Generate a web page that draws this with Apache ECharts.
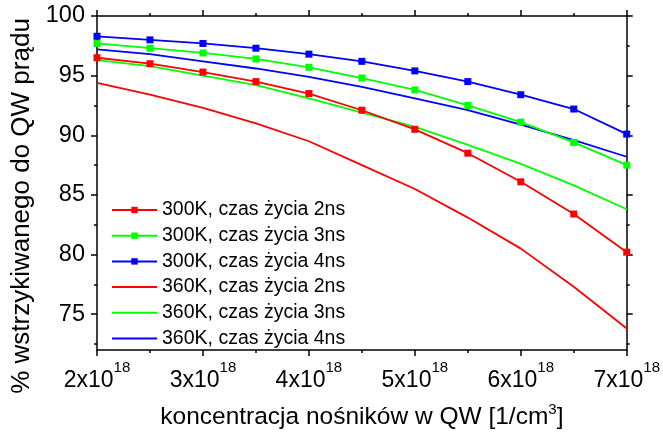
<!DOCTYPE html>
<html>
<head>
<meta charset="utf-8">
<script src="https://cdn.jsdelivr.net/npm/echarts@6/dist/echarts.min.js"></script>
<style>
  html, body { margin: 0; padding: 0; background: #fff; }
  #chart { width: 663px; height: 435px; }
</style>
</head>
<body>
<div id="chart"></div>
<script>
// carrier concentration in units of 1e18 cm^-3
const concentration = [2, 2.5, 3, 3.5, 4, 4.5, 5, 5.5, 6, 6.5, 7];

// share of injected current reaching the QW [%]
const t300_2ns = [96.5, 96.0, 95.3, 94.5, 93.5, 92.1, 90.5, 88.5, 86.1, 83.4, 80.2];
const t300_3ns = [97.7, 97.3, 96.9, 96.4, 95.7, 94.8, 93.8, 92.5, 91.1, 89.4, 87.5];
const t300_4ns = [98.3, 98.0, 97.7, 97.3, 96.8, 96.2, 95.4, 94.5, 93.4, 92.2, 90.1];
const t360_2ns = [94.4, 93.4, 92.3, 91.0, 89.5, 87.5, 85.5, 83.1, 80.5, 77.3, 73.8];
const t360_3ns = [96.3, 95.8, 95.0, 94.2, 93.1, 91.9, 90.7, 89.2, 87.6, 85.8, 83.8];
const t360_4ns = [97.2, 96.8, 96.2, 95.6, 94.9, 94.05, 93.1, 92.1, 90.9, 89.6, 88.2];

const seriesNames = [
  '300K, czas życia 2ns', '300K, czas życia 3ns', '300K, czas życia 4ns',
  '360K, czas życia 2ns', '360K, czas życia 3ns', '360K, czas życia 4ns'
];

const yMajorTicks = [75, 80, 85, 90, 95, 100];
const yMinorTicks = [72.5, 77.5, 82.5, 87.5, 92.5, 97.5];

const FONT = '"Liberation Sans", Arial, sans-serif';
const RED = '#ff0000', GREEN = '#00ff00', BLUE = '#0000ff';

const pairs = ys => concentration.map((x, i) => [x, ys[i]]);

function makeSeries(name, ys, color, withMarkers) {
  return {
    name,
    type: 'line',
    data: pairs(ys),
    xAxisIndex: 0,
    yAxisIndex: 0,
    symbol: withMarkers ? 'rect' : 'none',
    symbolSize: 7,
    showSymbol: withMarkers,
    lineStyle: { color, width: 1.8 },
    itemStyle: { color },
    emphasis: { disabled: true },
    animation: false,
    z: withMarkers ? 3 : 2
  };
}

const axisLine = { show: true, lineStyle: { color: '#000', width: 1.5 } };

function yAxisBase(position, ticks, tickLen, withLabels) {
  return {
    type: 'value',
    position,
    min: 72,
    max: 100,
    axisLine: withLabels !== null ? axisLine : { show: false },
    axisTick: {
      show: true, inside: false, length: tickLen,
      customValues: ticks,
      lineStyle: { color: '#000', width: 1.5 }
    },
    axisLabel: withLabels ? {
      show: true, customValues: ticks, margin: 12,
      color: '#000', fontFamily: FONT, fontSize: 23.5
    } : { show: false },
    splitLine: { show: false }
  };
}

const xTickLabel = v => '{a|' + v + 'x10}{b|18}';

const xRich = {
  a: { fontFamily: FONT, fontSize: 23, color: '#000', lineHeight: 32, verticalAlign: 'bottom' },
  b: { fontFamily: FONT, fontSize: 15, color: '#000', lineHeight: 15, verticalAlign: 'top' }
};

function xAxisBase(position, withLabels) {
  return {
    type: 'value',
    position,
    min: 2,
    max: 7,
    interval: 1,
    axisLine,
    axisTick: { show: true, inside: false, length: 6, lineStyle: { color: '#000', width: 1.5 } },
    minorTick: { show: true, splitNumber: 2, length: 3, lineStyle: { color: '#000', width: 1.5 } },
    axisLabel: withLabels ? {
      show: true, margin: 10, formatter: xTickLabel, rich: xRich
    } : { show: false },
    splitLine: { show: false },
    minorSplitLine: { show: false }
  };
}

const xBottom = xAxisBase('bottom', true);
xBottom.name = '{n|koncentracja nośników w QW [1/cm}{s|3}{n|]}';
xBottom.nameLocation = 'middle';
xBottom.nameGap = 52;
xBottom.nameTextStyle = {
  rich: {
    n: { fontFamily: FONT, fontSize: 24.5, color: '#000', lineHeight: 28, verticalAlign: 'bottom' },
    s: { fontFamily: FONT, fontSize: 15, color: '#000', lineHeight: 14, verticalAlign: 'top' }
  }
};

const yLeft = yAxisBase('left', yMajorTicks, 6, true);
yLeft.name = '% wstrzykiwanego do QW prądu';
yLeft.nameLocation = 'middle';
yLeft.nameGap = 56;
yLeft.nameTextStyle = {
  fontFamily: FONT, fontSize: 26, color: '#000', padding: [0, 46, 0, 0]
};

// the 360K entries are plain lines, so their legend symbol is hidden
const legendData = seriesNames.map((name, i) =>
  i < 3 ? { name } : { name, itemStyle: { opacity: 0 } }
);

const option = {
  backgroundColor: '#fff',
  animation: false,
  grid: { left: 97, right: 35, top: 16, bottom: 81, containLabel: false },
  xAxis: [xBottom, xAxisBase('top', false)],
  yAxis: [
    yLeft,
    yAxisBase('left', yMinorTicks, 3, null),
    yAxisBase('right', yMajorTicks, 6, false),
    yAxisBase('right', yMinorTicks, 3, null)
  ],
  legend: {
    show: true,
    orient: 'vertical',
    left: 111,
    top: 200,
    padding: 0,
    itemGap: 5.7,
    itemWidth: 45,
    itemHeight: 8,
    textStyle: { fontFamily: FONT, fontSize: 19.5, color: '#000', lineHeight: 20 },
    data: legendData
  },
  series: [
    makeSeries(seriesNames[0], t300_2ns, RED, true),
    makeSeries(seriesNames[1], t300_3ns, GREEN, true),
    makeSeries(seriesNames[2], t300_4ns, BLUE, true),
    makeSeries(seriesNames[3], t360_2ns, RED, false),
    makeSeries(seriesNames[4], t360_3ns, GREEN, false),
    makeSeries(seriesNames[5], t360_4ns, BLUE, false)
  ]
};

const chart = echarts.init(document.getElementById('chart'), null, { renderer: 'canvas' });
chart.setOption(option);
</script>
</body>
</html>
